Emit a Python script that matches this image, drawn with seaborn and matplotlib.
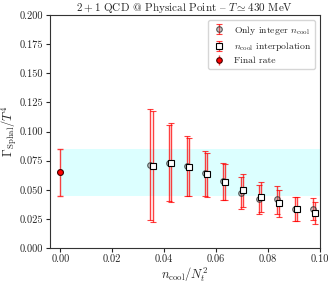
import numpy as np
import seaborn as sns
import matplotlib as mpl
mpl.use("Agg")
import matplotlib.pyplot as plt

# integer n_cool points
x_int = [0.0347, 0.0417, 0.0486, 0.0556, 0.0625, 0.0694, 0.0764, 0.0833, 0.0903, 0.0972]
y_int = [0.0715, 0.0732, 0.0704, 0.0647, 0.0573, 0.0474, 0.0417, 0.0417, 0.0338, 0.0338]
lo_int = [0.0241, 0.0406, 0.0449, 0.0449, 0.0411, 0.0335, 0.0289, 0.0292, 0.0232, 0.0241]
hi_int = [0.1190, 0.1060, 0.0959, 0.0832, 0.0729, 0.0610, 0.0539, 0.0530, 0.0440, 0.0431]

# n_cool interpolation points
x_itp = [0.0357, 0.0427, 0.0496, 0.0566, 0.0635, 0.0704, 0.0774, 0.0843, 0.0913, 0.0982]
y_itp = [0.0704, 0.0732, 0.0695, 0.0633, 0.0565, 0.0496, 0.0440, 0.0386, 0.0338, 0.0298]
lo_itp = [0.0219, 0.0391, 0.0445, 0.0440, 0.0411, 0.0355, 0.0312, 0.0270, 0.0233, 0.0202]
hi_itp = [0.1180, 0.1072, 0.0942, 0.0817, 0.0721, 0.0638, 0.0567, 0.0500, 0.0442, 0.0391]

# final rate
x_fin = [0.0]
y_fin = [0.065]
lo_fin = [0.045]
hi_fin = [0.085]

sns.set_style("ticks")
plt.rcParams['font.family'] = ['cmr10', 'DejaVu Serif']
plt.rcParams['mathtext.fontset'] = 'cm'
plt.rcParams['axes.formatter.use_mathtext'] = True
plt.rcParams['axes.unicode_minus'] = False

fig = plt.figure(figsize=(3.35, 2.85), dpi=100)
ax = fig.add_axes([50 / 335, 37 / 285, 270 / 335, 233 / 285])

ax.fill_between([0.0, 0.1], lo_fin[0], hi_fin[0], color='#dcffff', lw=0, zorder=0)


def yerr(y, lo, hi):
    y = np.array(y)
    return [y - np.array(lo), np.array(hi) - y]


ebar = dict(ecolor=(1, 0, 0, 0.75), elinewidth=1, capsize=2.5, capthick=1)

ax.errorbar(x_int, y_int, yerr=yerr(y_int, lo_int, hi_int), fmt='o', ms=4,
            mfc=(0.5, 0.5, 0.5, 0.4), mec=(0.2, 0.2, 0.2, 0.8), mew=0.8,
            label=r'Only integer $n_{\rm cool}$', zorder=3, **ebar)
ax.errorbar(x_itp, y_itp, yerr=yerr(y_itp, lo_itp, hi_itp), fmt='s', ms=3.8,
            mfc='white', mec='black', mew=0.8,
            label=r'$n_{\rm cool}$ interpolation', zorder=3, **ebar)
ax.errorbar(x_fin, y_fin, yerr=yerr(y_fin, lo_fin, hi_fin), fmt='none', zorder=3, **ebar)
sns.scatterplot(x=x_fin, y=y_fin, ax=ax, color='red', edgecolor='#400000',
                s=18, linewidth=0.8, zorder=4, legend=False)
# legend proxy for the final rate
ax.errorbar([], [], yerr=[], fmt='o', ms=4, mfc='red', mec='#400000', mew=0.8,
            label='Final rate', **ebar)

ax.set_xlim(-0.004, 0.1)
ax.set_ylim(0.0, 0.2)
ax.set_xticks(np.arange(0, 0.101, 0.02))
ax.set_yticks(np.arange(0, 0.201, 0.025))
ax.xaxis.set_major_formatter(mpl.ticker.FormatStrFormatter('%.2f'))
ax.yaxis.set_major_formatter(mpl.ticker.FormatStrFormatter('%.3f'))
ax.tick_params(labelsize=7.5, length=3, width=0.8, direction='out', pad=2)
for s in ax.spines.values():
    s.set_linewidth(0.8)
    s.set_color('#333333')

ax.set_xlabel(r'$n_{\rm cool}/N_t^2$', fontsize=9, labelpad=1)
ax.set_ylabel(r'$\Gamma_{\rm Sphal}/T^4$', fontsize=9)
ax.yaxis.set_label_coords(-0.115, 0.5)
# '{' is the en dash glyph in cmr10
ax.set_title(r'$2+1$ QCD @ Physical Point {' + r' $T \simeq 430$ MeV', fontsize=8, pad=3)

ax.legend(loc='upper right', fontsize=7, frameon=True, fancybox=True,
          edgecolor='#cccccc', handlelength=1.4, handletextpad=0.8,
          borderpad=0.4, labelspacing=0.35)

fig.savefig('out.png', dpi=100)
